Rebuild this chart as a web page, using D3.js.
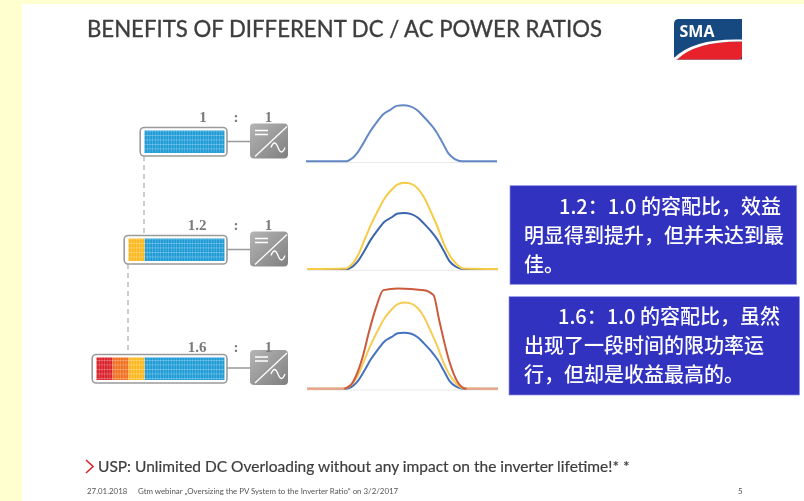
<!DOCTYPE html>
<html>
<head>
<meta charset="utf-8">
<style>
html, body { margin: 0; padding: 0; background: #fff; }
svg { display: block; }
.title { font-family: Lato, sans-serif; font-size: 23px; fill: #3d3d3d; stroke: #3d3d3d; stroke-width: .35px; }
.ratio { font-family: "Liberation Serif", serif; font-weight: bold; font-size: 15px; fill: #7a7a7a; text-anchor: middle; }
.note { font-family: "Noto Sans CJK SC", sans-serif; font-weight: 500; font-size: 20px; fill: #fff; }
.usp { font-family: Lato, sans-serif; font-size: 15.5px; fill: #3d3d3d; stroke: #3d3d3d; stroke-width: .2px; }
.foot { font-family: Lato, sans-serif; font-size: 7.9px; fill: #555; }
</style>
</head>
<body>
<svg id="chart" width="804" height="501"></svg>
<script src="https://cdn.jsdelivr.net/npm/d3@7"></script>
<script>
// data
var hours = [0, 4.9, 5.3, 6.4, 7.2, 8.0, 8.9, 9.7, 10.6, 11.4, 12.2, 13.1, 13.9, 14.7, 15.6, 16.4, 17.2, 17.9, 18.7, 19.6, 24];
var blueValues = [0, 0, .01, .14, .32, .52, .70, .84, .92, .99, 1, .98, .92, .81, .67, .52, .32, .14, .04, 0, 0];
var yellowValues = [0, .01, .04, .24, .51, .78, 1.04, 1.25, 1.41, 1.51, 1.54, 1.52, 1.44, 1.28, 1.01, .75, .45, .25, .10, .01, 0];
var redHours = [0, 4.5, 5.5, 6.2, 7.0, 7.8, 8.7, 9.6, 11.4, 14.7, 15.9, 16.6, 17.9, 18.9, 20, 24];
var redValues = [0, 0, .065, .24, .57, 1.02, 1.46, 1.76, 1.79, 1.76, 1.67, 1.23, .48, .125, 0, 0];

var dcRatios = [1, 1.2, 1.6];
var ratioLabels = ["1", "1.2", "1.6"];
var segStarts = [0, 1, 1.2, 1.4];
var segEnds = [1, 1.2, 1.4, 1.6];
var segColors = ["#1f9bd6", "#fbb81f", "#f0701f", "#d9202a"];

var titleText = "BENEFITS OF DIFFERENT DC / AC POWER RATIOS";
// \uFF1A and \uFF0C are the full-width colon and comma
var note1 = ["1.2\uFF1A1.0 的容配比\uFF0C效益", "明显得到提升\uFF0C但并未达到最", "佳。"];
var note2 = ["1.6\uFF1A1.0 的容配比\uFF0C虽然", "出现了一段时间的限功率运", "行\uFF0C但却是收益最高的。"];
var uspText = "USP: Unlimited DC Overloading without any impact on the inverter lifetime!* *";
var footDate = "27.01.2018";
var footText = "Gtm webinar „Oversizing the PV System to the Inverter Ratio“ on 3/2/2017";

var svg = d3.select("#chart");
var defs = svg.append("defs");

defs.append("filter").attr("id", "soft")
    .attr("filterUnits", "userSpaceOnUse")
    .attr("x", 0).attr("y", 0).attr("width", 804).attr("height", 501)
  .append("feGaussianBlur").attr("stdDeviation", 0.5);

// white module grid over the coloured cells
var pat = defs.append("pattern").attr("id", "cells")
    .attr("patternUnits", "userSpaceOnUse").attr("width", 2.67).attr("height", 4.5);
pat.append("rect").attr("x", 0).attr("y", 0).attr("width", 0.5).attr("height", 4.5).attr("fill", "#fff").attr("opacity", .4);
pat.append("rect").attr("x", 0).attr("y", 0).attr("width", 2.67).attr("height", 0.6).attr("fill", "#fff").attr("opacity", .4);

var grad = defs.append("linearGradient").attr("id", "inv").attr("x1", 0).attr("y1", 0).attr("x2", 1).attr("y2", 1);
grad.append("stop").attr("offset", "0%").attr("stop-color", "#b5b5b5");
grad.append("stop").attr("offset", "100%").attr("stop-color", "#7f7f7f");

// red line fades to pink along its flat tails
var redGrad = defs.append("linearGradient").attr("id", "redLine")
    .attr("gradientUnits", "userSpaceOnUse").attr("x1", 307).attr("x2", 498).attr("y1", 0).attr("y2", 0);
[[0, "#eda58f"], [.19, "#eda58f"], [.2, "#cb5a3c"], [.83, "#cb5a3c"], [.84, "#eda58f"], [1, "#eda58f"]].forEach(function(s) {
  redGrad.append("stop").attr("offset", s[0]).attr("stop-color", s[1]);
});

var root = svg.append("g").attr("filter", "url(#soft)");

// page frame
root.append("rect").attr("x", 0).attr("y", 0).attr("width", 804).attr("height", 4).attr("fill", "#ffffcf");
root.append("rect").attr("x", 0).attr("y", 0).attr("width", 22).attr("height", 501).attr("fill", "#ffffcf");

root.append("text").attr("class", "title").attr("x", 87).attr("y", 37)
    .attr("textLength", 515).attr("lengthAdjust", "spacingAndGlyphs").text(titleText);

// logo
var logo = root.append("g").attr("transform", "translate(674,19)");
logo.append("path").attr("d", "M5,0H68V40.5H3Q0,40.5 0,37V5Q0,0 5,0Z").attr("fill", "#18497f");
logo.append("path").attr("d", "M2,40.5Q22,22 68,22.5V36Q68,40.5 64,40.5Z").attr("fill", "#e8202a");
logo.append("path").attr("d", "M0,39Q20,19 68,20.5V22.5Q22,22 3,40.5H0Z").attr("fill", "#fff");
logo.append("text").attr("x", 5.5).attr("y", 17.5)
    .attr("font-family", "'Open Sans', sans-serif").attr("font-weight", 700).attr("font-size", 16)
    .attr("fill", "#fff").text("SMA");

// PV strings
var rowTop = [130.5, 238.5, 357.5];
var rowMid = [141.5, 249.5, 368];
var labelBase = [122, 230, 352];
var barX = d3.scaleLinear().domain([0, 1.6]).range([224.5, 96.5]);

// dashed links between the rows
root.append("line").attr("x1", 144).attr("x2", 144).attr("y1", 156).attr("y2", 236)
    .attr("stroke", "#bdbdbd").attr("stroke-width", 1.5).attr("stroke-dasharray", "5 4");
root.append("line").attr("x1", 128).attr("x2", 128).attr("y1", 264).attr("y2", 355)
    .attr("stroke", "#bdbdbd").attr("stroke-width", 1.5).attr("stroke-dasharray", "5 4");

var rows = root.selectAll(".row").data(dcRatios).enter().append("g").attr("class", "row");

rows.append("rect")
    .attr("x", function(d) { return barX(d) - 4.3; })
    .attr("y", function(d, i) { return rowTop[i] - 3; })
    .attr("width", function(d) { return barX(0) - barX(d) + 6.8; })
    .attr("height", 28.5).attr("rx", 4)
    .attr("fill", "#fff").attr("stroke", "#9a9a9a").attr("stroke-width", 1.6);

rows.each(function(ratio, i) {
  var segs = d3.range(segStarts.length).filter(function(k) { return segEnds[k] <= ratio; });
  var g = d3.select(this);
  g.selectAll(".seg").data(segs).enter().append("rect").attr("class", "seg")
      .attr("x", function(k) { return barX(segEnds[k]); })
      .attr("y", rowTop[i])
      .attr("width", function(k) { return barX(segStarts[k]) - barX(segEnds[k]); })
      .attr("height", 22.5)
      .attr("fill", function(k) { return segColors[k]; });
  g.append("rect")
      .attr("x", barX(ratio)).attr("y", rowTop[i])
      .attr("width", barX(0) - barX(ratio)).attr("height", 22.5)
      .attr("fill", "url(#cells)");

  // connector and inverter
  g.append("line").attr("x1", 227).attr("x2", 251).attr("y1", rowMid[i]).attr("y2", rowMid[i])
      .attr("stroke", "#9a9a9a").attr("stroke-width", 1.5);
  var inv = g.append("g").attr("transform", "translate(250," + (rowMid[i] - 18) + ")");
  inv.append("rect").attr("width", 38).attr("height", 35).attr("rx", 4).attr("fill", "url(#inv)");
  inv.append("line").attr("x1", 5).attr("y1", 33).attr("x2", 37).attr("y2", 3).attr("stroke", "#fff").attr("stroke-width", 1.3);
  inv.append("path").attr("d", "M5,7H18M5,11H18").attr("stroke", "#fff").attr("stroke-width", 1.3).attr("fill", "none");
  inv.append("path").attr("d", "M21,24Q24.5,15 28,24T35,24").attr("stroke", "#fff").attr("stroke-width", 1.3).attr("fill", "none");

  g.append("text").attr("class", "ratio").attr("x", i === 0 ? 203 : 197).attr("y", labelBase[i]).text(ratioLabels[i]);
  g.append("text").attr("class", "ratio").attr("x", 236).attr("y", labelBase[i]).text(":");
  g.append("text").attr("class", "ratio").attr("x", 268.5).attr("y", labelBase[i]).text("1");
});

// power curves
var panels = [
  { base: 161.3, x0: 306, series: [[hours, blueValues, "#6288c5"]] },
  { base: 269, x0: 307, series: [[hours, blueValues, "#3b66ae"], [hours, yellowValues, "#f7cb45"]] },
  { base: 388.7, x0: 307, series: [[hours, blueValues, "#4472c0"], [hours, yellowValues, "#f6cc55"], [redHours, redValues, "url(#redLine)"]] }
];

panels.forEach(function(p) {
  var x = d3.scaleLinear().domain([0, 24]).range([p.x0, p.x0 + 191]);
  var y = d3.scaleLinear().domain([0, 1.8]).range([p.base, p.base - 100.8]);
  var g = root.append("g");

  g.append("g").attr("transform", "translate(0," + (p.base + 0.8) + ")")
      .call(d3.axisBottom(x).tickValues([]).tickSize(0).tickSizeOuter(0))
      .select(".domain").attr("stroke", "#e8e8e8");

  p.series.forEach(function(s) {
    var pts = d3.zip(s[0], s[1]);
    g.append("path").datum(pts)
        .attr("fill", "none").attr("stroke", s[2]).attr("stroke-width", 2)
        .attr("stroke-linejoin", "round")
        .attr("d", d3.line().curve(d3.curveMonotoneX).x(function(d) { return x(d[0]); }).y(function(d) { return y(d[1]); }));
  });
});

// note boxes
function noteBox(x, y, w, h, lines, firstX, bases) {
  root.append("rect").attr("x", x).attr("y", y).attr("width", w).attr("height", h)
      .attr("fill", "#3030c0").attr("stroke", "#8f8fe0").attr("stroke-width", .7);
  root.selectAll(null).data(lines).enter().append("text").attr("class", "note")
      .attr("x", function(d, i) { return i === 0 ? firstX : 524; })
      .attr("y", function(d, i) { return bases[i]; })
      .text(function(d) { return d; });
}
noteBox(510, 185.7, 286.7, 98.6, note1, 559, [214, 243, 272]);
noteBox(509, 296.7, 290.5, 98.3, note2, 558, [324, 353, 382]);

// bottom lines
root.append("path").attr("d", "M86,460L93,466.5L86,473").attr("fill", "none").attr("stroke", "#d8232a").attr("stroke-width", 1.6);
root.append("text").attr("class", "usp").attr("x", 98).attr("y", 472).text(uspText);
root.append("text").attr("class", "foot").attr("x", 87).attr("y", 494).text(footDate);
root.append("text").attr("class", "foot").attr("x", 138).attr("y", 494).text(footText);
root.append("text").attr("class", "foot").attr("x", 738).attr("y", 494).text("5");
</script>
</body>
</html>
